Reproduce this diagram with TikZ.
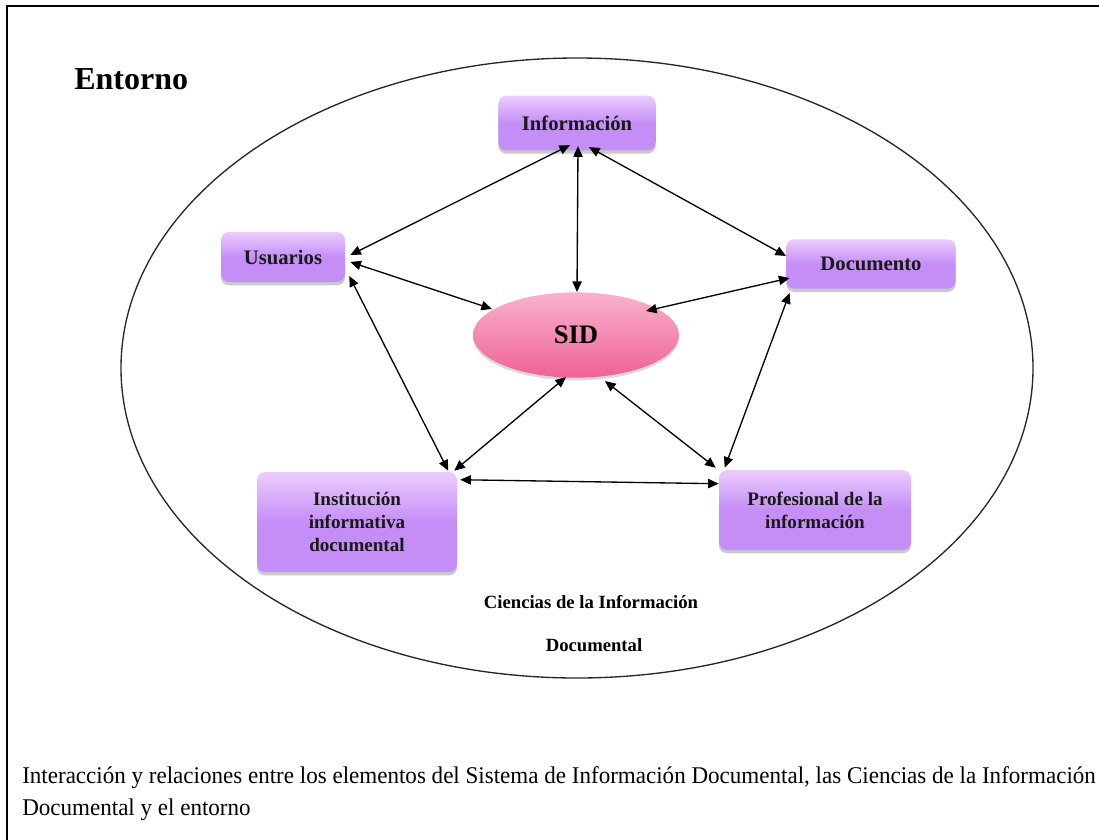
\documentclass[tikz,border=0pt]{standalone}
\usepackage{fontspec}
\setmainfont{Liberation Serif}
\newfontfamily\piefont{Liberation Serif}[FakeStretch=0.96]
\usetikzlibrary{calc,arrows.meta,shadows,shapes.geometric}
\definecolor{lila}{RGB}{196,142,246}
\definecolor{lilaclaro}{RGB}{236,204,255}
\definecolor{rosa}{RGB}{238,98,150}
\definecolor{rosaclaro}{RGB}{250,178,206}
\tikzset{
	caja/.style={rounded corners=6pt, top color=lilaclaro, bottom color=lila, middle color=lila,
		align=center, inner sep=0pt, text=black!90,
		font=\bfseries\fontsize{15.5}{20}\selectfont,
		drop shadow={shadow xshift=0pt, shadow yshift=-2.5pt, opacity=0.35, fill=black!60}},
	cajados/.style={caja, font=\bfseries\fontsize{14.3}{17.3}\selectfont},
	flecha/.style={line width=1pt, {Triangle[length=8pt,width=7pt]}-{Triangle[length=8pt,width=7pt]}},
}

\begin{document}
\begin{tikzpicture}[x=0.75pt, y=-0.75pt]
			%%%%% START %%%%%
			
			\useasboundingbox (0,0) rectangle (1099,839);
			\draw[line width=1.2pt] (7,850) -- (7,6) -- (1110,6);
			
			\node[anchor=base west, inner sep=0pt, font=\bfseries\fontsize{24}{28}\selectfont] (entorno) at (74,89) {Entorno};
			\draw[line width=1pt, color=black!85] (577,368) ellipse [x radius=456, y radius=310];
			
			\node[caja, minimum width=118pt, minimum height=41pt] (info) at (577,123) {Información};
			\node[caja, minimum width=93pt, minimum height=37.5pt] (usu) at (283,257) {Usuarios};
			\node[caja, minimum width=127pt, minimum height=37pt] (doc) at (871,264) {Documento};
			\node[cajados, minimum width=144pt, minimum height=60pt] (prof) at (815,510) {Profesional de la\\información};
			\node[cajados, minimum width=150pt, minimum height=75pt] (inst) at (357,522) {Institución\\informativa\\documental};
			
			\node[ellipse, minimum width=154.5pt, minimum height=64pt, inner sep=0pt, top color=rosaclaro, bottom color=rosa,
				font=\bfseries\fontsize{20}{24}\selectfont, drop shadow={shadow xshift=0pt, shadow yshift=-2pt, opacity=0.25, fill=black!60}] (sid) at (576,335) {SID};
			
			\draw[flecha] ($(info.south)+(-7,-5.5)$) -- ($(usu.east)+(5,-2)$);
			\draw[flecha] ($(info.south)+(1,-4.5)$) -- ($(sid.north)+(1,0)$);
			\draw[flecha] ($(info.south)+(12,-3.5)$) -- ($(doc.west)+(0,-8)$);
			\draw[flecha] ($(usu.east)+(5,5)$) -- ($(sid.center)+(-84,-26)$);
			\draw[flecha] ($(usu.east)+(4,19)$) -- ($(inst.north east)+(-9,-1)$);
			\draw[flecha] ($(doc.west)+(3.5,14)$) -- ($(sid.center)+(70,-24)$);
			\draw[flecha] ($(doc.west)+(3.5,29)$) -- ($(prof.north west)+(6,-2)$);
			\draw[flecha] ($(sid.center)+(-10,42)$) -- ($(inst.north east)+(-3,-1)$);
			\draw[flecha] ($(sid.center)+(29,46)$) -- ($(prof.north west)+(-3,-2)$);
			\draw[flecha] ($(inst.north east)+(3,8)$) -- ($(prof.north west)+(0,14)$);
			
			\node[font=\bfseries\fontsize{14}{17}\selectfont] (ciencias) at (591,602) {Ciencias de la Información};
			\node[font=\bfseries\fontsize{14}{17}\selectfont] (documental) at (594,645) {Documental};
			
			\node[anchor=base west, inner sep=0pt, font=\piefont\fontsize{18}{22}\selectfont] (pieuno) at (22,783) {Interacción y relaciones entre los elementos del Sistema de Información Documental, las Ciencias de la Información};
			\node[anchor=base west, inner sep=0pt, font=\piefont\fontsize{18}{22}\selectfont] (piedos) at (22,815) {Documental y el entorno};
			
			%%%%% END %%%%%
\end{tikzpicture}
\end{document}
